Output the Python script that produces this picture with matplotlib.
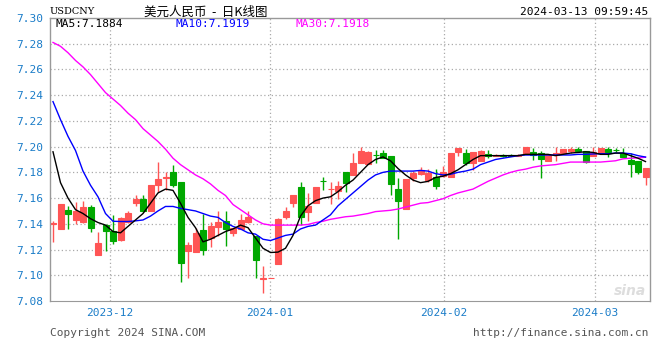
#!/usr/bin/env python3

import numpy as np
import matplotlib as mpl
import matplotlib.pyplot as plt

# daily candles USDCNY
opens = [7.1400, 7.1356, 7.1509, 7.1429, 7.1418, 7.1532, 7.1161, 7.1390, 7.1346, 7.1273,
         7.1413, 7.1558, 7.1595, 7.1500, 7.1699, 7.1753, 7.1805, 7.1727, 7.1187, 7.1179,
         7.1353, 7.1288, 7.1377, 7.1423, 7.1330, 7.1356, 7.1418, 7.1307, 7.0972, 7.0978,
         7.1086, 7.1450, 7.1559, 7.1688, 7.1488, 7.1558, 7.1733, 7.1668, 7.1652, 7.1805,
         7.1782, 7.1870, 7.1862, 7.1936, 7.1948, 7.1925, 7.1670, 7.1517, 7.1756, 7.1787,
         7.1743, 7.1761, 7.1774, 7.1766, 7.1956, 7.1948, 7.1875, 7.1886, 7.1940, 7.1927,
         7.1938, 7.1938, 7.1927, 7.1943, 7.1961, 7.1953, 7.1886, 7.1935, 7.1953, 7.1969,
         7.1984, 7.1969, 7.1925, 7.1948, 7.1984, 7.1974, 7.1953, 7.1899, 7.1891, 7.1766]
highs = [7.1423, 7.1556, 7.1540, 7.1570, 7.1580, 7.1548, 7.1333, 7.1397, 7.1468, 7.1450,
         7.1500, 7.1626, 7.1626, 7.1704, 7.1883, 7.1800, 7.1860, 7.1727, 7.1260, 7.1364,
         7.1475, 7.1416, 7.1501, 7.1501, 7.1369, 7.1478, 7.1501, 7.1307, 7.1073, 7.0980,
         7.1449, 7.1532, 7.1626, 7.1722, 7.1639, 7.1688, 7.1766, 7.1727, 7.1735, 7.1805,
         7.1948, 7.2000, 7.1969, 7.1974, 7.1974, 7.1925, 7.1753, 7.1751, 7.1813, 7.1839,
         7.1823, 7.1823, 7.1850, 7.1948, 7.1992, 7.1982, 7.1961, 7.1974, 7.1974, 7.1940,
         7.1943, 7.1940, 7.1940, 7.1995, 7.1992, 7.1969, 7.1938, 7.2000, 7.1984, 7.1995,
         7.2000, 7.1969, 7.2000, 7.1992, 7.2000, 7.1987, 7.1987, 7.1948, 7.1891, 7.1836]
lows = [7.1255, 7.1356, 7.1356, 7.1400, 7.1408, 7.1340, 7.1161, 7.1185, 7.1242, 7.1268,
        7.1408, 7.1540, 7.1488, 7.1500, 7.1644, 7.1662, 7.1683, 7.0951, 7.0977, 7.1179,
        7.1159, 7.1223, 7.1307, 7.1229, 7.1304, 7.1356, 7.1410, 7.0982, 7.0865, 7.0978,
        7.1086, 7.1439, 7.1527, 7.1392, 7.1424, 7.1558, 7.1665, 7.1553, 7.1592, 7.1650,
        7.1782, 7.1870, 7.1862, 7.1870, 7.1909, 7.1626, 7.1283, 7.1517, 7.1735, 7.1782,
        7.1722, 7.1670, 7.1761, 7.1766, 7.1930, 7.1860, 7.1818, 7.1886, 7.1912, 7.1925,
        7.1922, 7.1925, 7.1925, 7.1943, 7.1896, 7.1753, 7.1886, 7.1890, 7.1953, 7.1948,
        7.1969, 7.1870, 7.1925, 7.1948, 7.1922, 7.1961, 7.1922, 7.1766, 7.1787, 7.1704]
closes = [7.1405, 7.1556, 7.1480, 7.1496, 7.1532, 7.1364, 7.1252, 7.1348, 7.1268, 7.1442,
          7.1486, 7.1590, 7.1496, 7.1704, 7.1751, 7.1766, 7.1701, 7.1099, 7.1234, 7.1330,
          7.1200, 7.1384, 7.1416, 7.1356, 7.1369, 7.1431, 7.1450, 7.1122, 7.0976, 7.0980,
          7.1434, 7.1496, 7.1626, 7.1455, 7.1535, 7.1688, 7.1731, 7.1670, 7.1691, 7.1714,
          7.1873, 7.1969, 7.1961, 7.1934, 7.1909, 7.1709, 7.1574, 7.1751, 7.1792, 7.1818,
          7.1792, 7.1691, 7.1800, 7.1948, 7.1992, 7.1875, 7.1961, 7.1969, 7.1925, 7.1938,
          7.1927, 7.1927, 7.1938, 7.1995, 7.1935, 7.1901, 7.1938, 7.1950, 7.1984, 7.1984,
          7.1969, 7.1880, 7.1961, 7.1992, 7.1961, 7.1972, 7.1922, 7.1865, 7.1805, 7.1836]

ma5 = [7.196, 7.172, 7.160, 7.151, 7.148, 7.144, 7.141, 7.139, 7.134, 7.133,
       7.138, 7.143, 7.148, 7.156, 7.164, 7.167, 7.166, 7.156, 7.145, 7.137,
       7.126, 7.128, 7.131, 7.134, 7.136, 7.139, 7.137, 7.129, 7.121, 7.1177,
       7.118, 7.121, 7.131, 7.146, 7.154, 7.158, 7.160, 7.161, 7.165, 7.170,
       7.174, 7.180, 7.186, 7.190, 7.192, 7.189, 7.183, 7.178, 7.174, 7.172,
       7.173, 7.176, 7.177, 7.179, 7.182, 7.186, 7.190, 7.193, 7.193, 7.193,
       7.193, 7.193, 7.193, 7.194, 7.194, 7.194, 7.194, 7.193, 7.194, 7.195,
       7.1955, 7.196, 7.1955, 7.194, 7.194, 7.195, 7.195, 7.193, 7.191, 7.1884]
ma10 = [7.235, 7.221, 7.208, 7.197, 7.181, 7.170, 7.161, 7.148, 7.142, 7.1418,
        7.1418, 7.1423, 7.143, 7.146, 7.150, 7.1535, 7.1535, 7.152, 7.151, 7.150,
        7.148, 7.146, 7.145, 7.141, 7.138, 7.136, 7.133, 7.132, 7.128, 7.127,
        7.129, 7.131, 7.132, 7.136, 7.138, 7.139, 7.143, 7.147, 7.154, 7.159,
        7.164, 7.169, 7.174, 7.178, 7.180, 7.181, 7.181, 7.181, 7.181, 7.1815,
        7.181, 7.179, 7.178, 7.1785, 7.180, 7.181, 7.1825, 7.186, 7.188, 7.190,
        7.191, 7.192, 7.193, 7.1935, 7.1935, 7.1935, 7.1935, 7.1935, 7.1935, 7.1935,
        7.194, 7.194, 7.1943, 7.1945, 7.1945, 7.195, 7.195, 7.1945, 7.193, 7.1919]
ma30 = [7.281, 7.278, 7.273, 7.267, 7.262, 7.256, 7.249, 7.242, 7.237, 7.232,
        7.226, 7.221, 7.214, 7.209, 7.204, 7.198, 7.191, 7.186, 7.182, 7.178,
        7.175, 7.171, 7.166, 7.162, 7.155, 7.151, 7.147, 7.143, 7.140, 7.139,
        7.139, 7.139, 7.139, 7.139, 7.1395, 7.141, 7.142, 7.1435, 7.1445, 7.1455,
        7.146, 7.147, 7.148, 7.1495, 7.150, 7.1505, 7.1515, 7.153, 7.1545, 7.156,
        7.1565, 7.158, 7.1595, 7.162, 7.164, 7.1655, 7.167, 7.170, 7.173, 7.1755,
        7.178, 7.180, 7.1815, 7.1825, 7.184, 7.185, 7.1855, 7.186, 7.187, 7.188,
        7.188, 7.188, 7.188, 7.188, 7.1885, 7.189, 7.1905, 7.191, 7.1912, 7.1918]

month_labels = ['2023-12', '2024-01', '2024-02', '2024-03']
month_pos = [7.6, 28.9, 52.1, 72.3]
y_ticks = [7.08, 7.10, 7.12, 7.14, 7.16, 7.18, 7.20, 7.22, 7.24, 7.26, 7.28, 7.30]

red = '#ff5555'
green = '#00a800'
tick_blue = '#1a7cc8'
mono = 'DejaVu Sans Mono'

fig = plt.figure(figsize=(6.6, 3.6), dpi=100)
ax = fig.add_axes([50/660, 1-301/360, 600/660, 283/360])

x = np.arange(len(closes))
o = np.array(opens); c = np.array(closes)
cols = [red if cc >= oo else green for oo, cc in zip(o, c)]

ax.vlines(x, lows, highs, colors=cols, linewidth=1, zorder=2)
ax.bar(x, np.abs(c-o), bottom=np.minimum(o, c), width=0.8, color=cols,
       edgecolor=cols, linewidth=0.8, zorder=2)

ax.plot(x, ma30, color='#ff00ff', lw=1, zorder=3)
ax.plot(x, ma10, color='#0000ff', lw=1, zorder=3)
ax.plot(x, ma5, color='black', lw=1, zorder=3)

ax.set_xlim(-0.4, 79.6)
ax.set_ylim(7.08, 7.30)

for yv in y_ticks[1:-1]:
    ax.axhline(yv, color='#aaaaaa', lw=0.9, ls=(0, (1, 2)), zorder=1)
for xv in month_pos:
    ax.axvline(xv, color='#aaaaaa', lw=0.9, ls=(0, (1, 2)), zorder=1)

for s in ['left', 'top', 'right']:
    ax.spines[s].set_color('#999999')
    ax.spines[s].set_linewidth(1)
ax.spines['bottom'].set_color('#999999')
ax.spines['bottom'].set_linestyle((0, (1, 1)))

ax.set_yticks(y_ticks)
ax.set_yticklabels([f'{v:.2f}' for v in y_ticks], color=tick_blue, family=mono, fontsize=8)
ax.set_xticks(month_pos)
ax.set_xticklabels(month_labels, color=tick_blue, family=mono, fontsize=8)
ax.tick_params(length=0, pad=5)

# header
fig.text(50/660, 1-12/360, 'USDCNY', family='DejaVu Serif', fontsize=7, va='center', ha='left')
fig.text(206/660, 1-12/360, '美元人民币  -  日K线图', family=['Noto Sans CJK SC', 'DejaVu Sans'],
         fontsize=9, va='center', ha='center')
fig.text(648/660, 1-12/360, '2024-03-13 09:59:45', family=mono, fontsize=8, va='center', ha='right')
fig.text(55/660, 1-24/360, 'MA5:7.1884', family=mono, fontsize=8, va='center', color='black')
fig.text(175/660, 1-24/360, 'MA10:7.1919', family=mono, fontsize=8, va='center', color='#0000ff')
fig.text(296/660, 1-24/360, 'MA30:7.1918', family=mono, fontsize=8, va='center', color='#ff00ff')

# footer
fig.text(50/660, 1-333/360, 'Copyright 2024 SINA.COM', family=mono, fontsize=8, va='center', color='#555555')
fig.text(648/660, 1-333/360, 'http://finance.sina.com.cn', family=mono, fontsize=8, va='center',
         ha='right', color='#555555')
fig.text(646/660, 1-291/360, 'sina', fontsize=10, style='italic', weight='bold', va='center',
         ha='right', color='#dddddd')

fig.savefig('out.png', dpi=100)
